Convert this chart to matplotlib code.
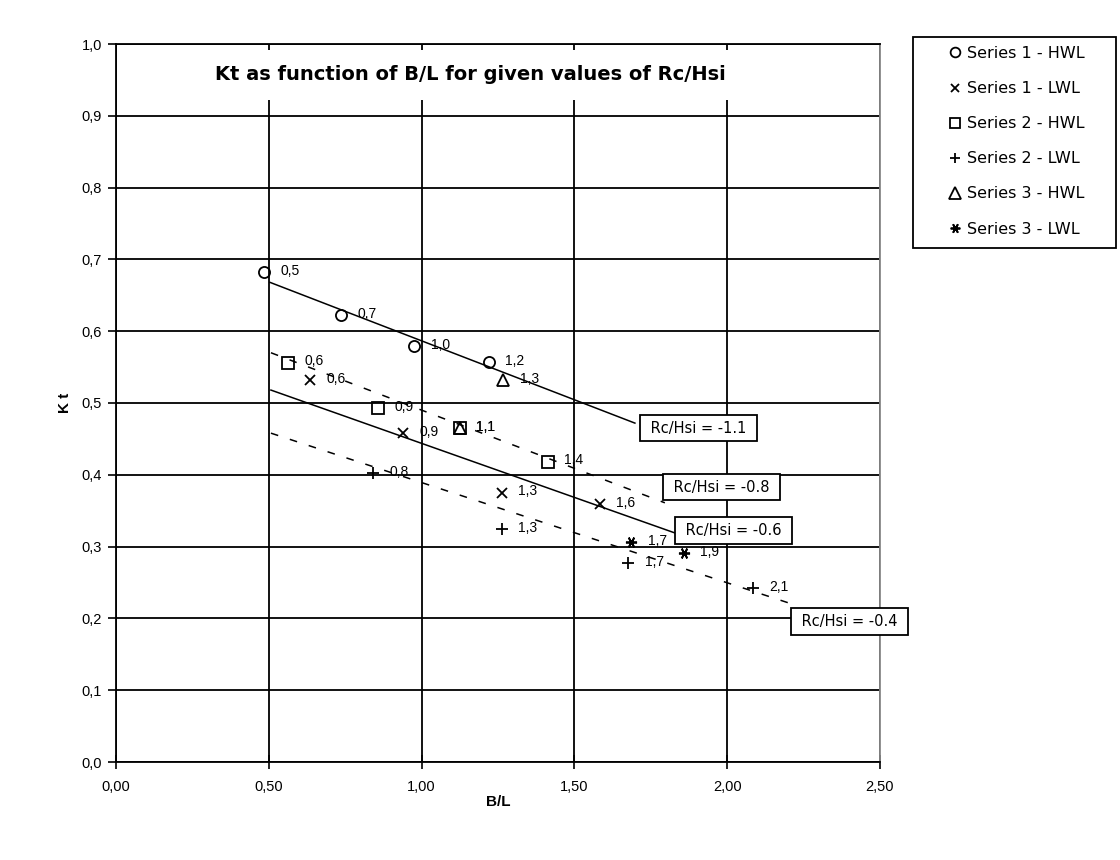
import matplotlib
matplotlib.use("Agg")
import matplotlib.pyplot as plt
from matplotlib.lines import Line2D
from matplotlib.patches import Rectangle

plt.rcParams['font.family'] = ['Liberation Sans', 'DejaVu Sans']

# ---------------- data ----------------
s1_hwl_x = [0.484, 0.736, 0.975, 1.220]
s1_hwl_y = [0.682, 0.622, 0.579, 0.557]
s1_hwl_lab = ['0,5', '0,7', '1,0', '1,2']

s1_lwl_x = [0.634, 0.939, 1.262, 1.583]
s1_lwl_y = [0.532, 0.458, 0.375, 0.359]
s1_lwl_lab = ['0,6', '0,9', '1,3', '1,6']

s2_hwl_x = [0.563, 0.857, 1.125, 1.413]
s2_hwl_y = [0.556, 0.493, 0.465, 0.418]
s2_hwl_lab = ['0,6', '0,9', '1,1', '1,4']

s2_lwl_x = [0.841, 1.262, 1.675, 2.084]
s2_lwl_y = [0.402, 0.324, 0.277, 0.242]
s2_lwl_lab = ['0,8', '1,3', '1,7', '2,1']

s3_hwl_x = [1.125, 1.266]
s3_hwl_y = [0.465, 0.532]
s3_hwl_lab = ['1,1', '1,3']

s3_lwl_x = [1.685, 1.858]
s3_lwl_y = [0.306, 0.291]
s3_lwl_lab = ['1,7', '1,9']

# trend lines (Rc/Hsi): start/end B/L and Kt
trend_names = ['Rc/Hsi = -1.1', 'Rc/Hsi = -0.8', 'Rc/Hsi = -0.6', 'Rc/Hsi = -0.4']
trend_x0 = [0.504, 0.507, 0.507, 0.507]
trend_x1 = [1.698, 1.796, 1.829, 2.205]
trend_y0 = [0.668, 0.570, 0.518, 0.458]
trend_y1 = [0.472, 0.361, 0.319, 0.221]
trend_dashed = [False, True, False, True]
# label box anchor (left edge x, centre y)
trend_lab_x = [1.715, 1.790, 1.829, 2.209]
trend_lab_y = [0.465, 0.383, 0.322, 0.196]

x_ticks = [0.0, 0.5, 1.0, 1.5, 2.0, 2.5]
x_ticklabels = ['0,00', '0,50', '1,00', '1,50', '2,00', '2,50']
y_ticks = [0.0, 0.1, 0.2, 0.3, 0.4, 0.5, 0.6, 0.7, 0.8, 0.9, 1.0]
y_ticklabels = ['0,0', '0,1', '0,2', '0,3', '0,4', '0,5', '0,6', '0,7', '0,8', '0,9', '1,0']

title = 'Kt as function of B/L for given values of Rc/Hsi'

# ---------------- figure ----------------
W, H = 1120, 860
fig = plt.figure(figsize=(W / 100, H / 100), dpi=100)
fig.patch.set_facecolor('white')
ax = fig.add_axes([116 / W, 1 - 762 / H, (880 - 116) / W, (762 - 44) / H])
ax.set_xlim(0, 2.5)
ax.set_ylim(0, 1.0)

ax.set_xticks(x_ticks)
ax.set_xticklabels(x_ticklabels, fontsize=10.5)
ax.set_yticks(y_ticks)
ax.set_yticklabels(y_ticklabels, fontsize=10.5)
ax.tick_params(axis='x', direction='inout', length=10, width=1.2, pad=8)
ax.tick_params(axis='y', direction='out', length=6, width=1.2, pad=4)
ax.grid(True, color='black', linewidth=1.3)
ax.set_axisbelow(True)
for s in ['left', 'bottom', 'top']:
    ax.spines[s].set_color('black')
    ax.spines[s].set_linewidth(1.3)
ax.spines['right'].set_color('#888888')
ax.spines['right'].set_linewidth(1.3)

ax.set_xlabel('B/L', fontsize=11, fontweight='bold', labelpad=1)
ax.set_ylabel('K t', fontsize=11, fontweight='bold', labelpad=7)

# trend lines
for x0, x1, y0, y1, dashed in zip(trend_x0, trend_x1, trend_y0, trend_y1, trend_dashed):
    if dashed:
        ax.plot([x0, x1], [y0, y1], color='black', lw=1.1, dashes=(5, 8), zorder=3)
    else:
        ax.plot([x0, x1], [y0, y1], color='black', lw=1.1, zorder=3)

mk = dict(color='black', linestyle='none', markerfacecolor='none', markeredgecolor='black',
          markeredgewidth=1.3, zorder=4)
series = [
    (s1_hwl_x, s1_hwl_y, s1_hwl_lab, 'o', 8, 'Series 1 - HWL'),
    (s1_lwl_x, s1_lwl_y, s1_lwl_lab, 'x', 7, 'Series 1 - LWL'),
    (s2_hwl_x, s2_hwl_y, s2_hwl_lab, 's', 8, 'Series 2 - HWL'),
    (s2_lwl_x, s2_lwl_y, s2_lwl_lab, '+', 8, 'Series 2 - LWL'),
    (s3_hwl_x, s3_hwl_y, s3_hwl_lab, '^', 9, 'Series 3 - HWL'),
    (s3_lwl_x, s3_lwl_y, s3_lwl_lab, (6, 2, 90), 8, 'Series 3 - LWL'),
]
handles = []
for xs, ys, labs, m, ms, name in series:
    ax.plot(xs, ys, marker=m, markersize=ms, **mk)
    for x, y, t in zip(xs, ys, labs):
        ax.annotate(t, (x, y), xytext=(12, 1), textcoords='offset points',
                    ha='left', va='center', fontsize=10, zorder=5)
    handles.append(Line2D([], [], marker=m, markersize=ms - 1, label=name, **mk))

# trend labels (boxed)
for name, lx, ly in zip(trend_names, trend_lab_x, trend_lab_y):
    ax.annotate(' ' + name + ' ', (lx, ly), xytext=(4.2, 0), textcoords='offset points',
                ha='left', va='center', fontsize=10.5, family='DejaVu Sans',
                zorder=6, annotation_clip=False,
                bbox=dict(boxstyle='square,pad=0.4', facecolor='white',
                          edgecolor='black', linewidth=1.3))

# title inside the plot
ax.text(1.158, 0.957, title, ha='center', va='center', fontsize=14, fontweight='bold',
        family='DejaVu Sans', zorder=6,
        bbox=dict(boxstyle='square,pad=0.8', facecolor='white', edgecolor='none'))

# legend
fig.patches.append(Rectangle((913 / W, 1 - 248 / H), (1116 - 913) / W, (248 - 37) / H,
                             transform=fig.transFigure, facecolor='white',
                             edgecolor='black', linewidth=1.3, zorder=1))
leg = fig.legend(handles=handles, loc='upper left', bbox_to_anchor=(949 / W, 1 - 46 / H),
                 frameon=False, prop={'family': 'DejaVu Sans', 'size': 11.5},
                 handlelength=0.8, handletextpad=0.3, labelspacing=1.26,
                 borderpad=0, borderaxespad=0)
leg.set_zorder(3)

fig.savefig('out.png', dpi=100, facecolor='white')
